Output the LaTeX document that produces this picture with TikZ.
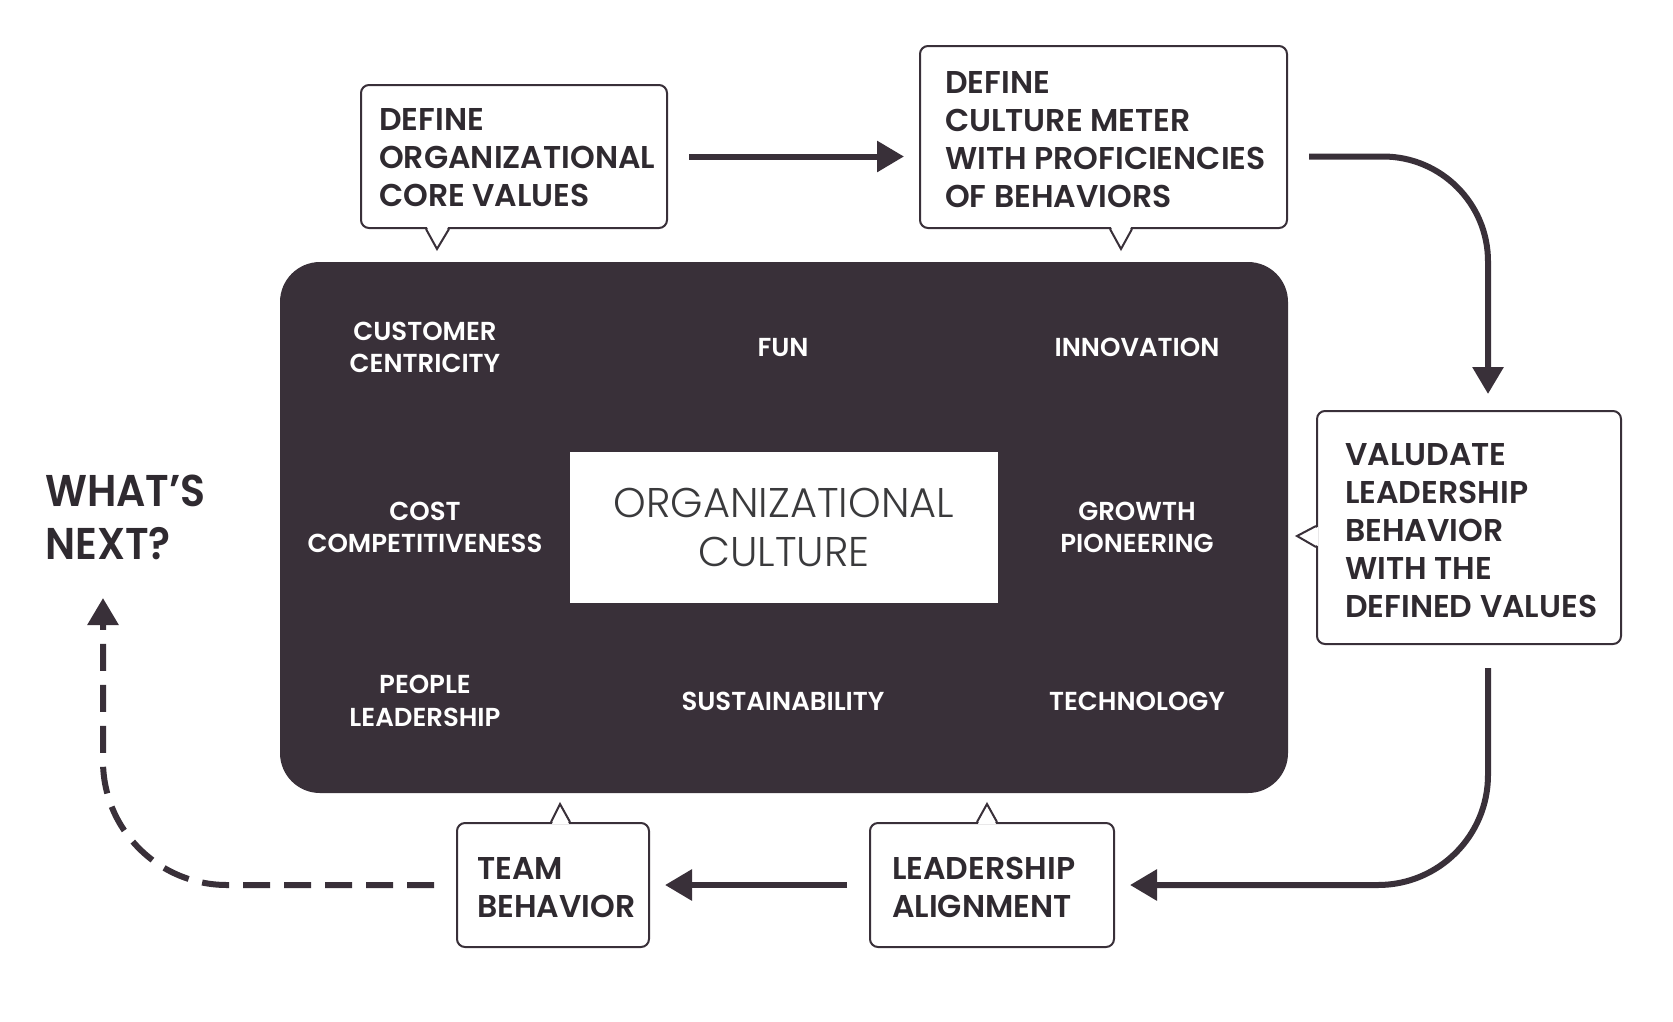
\documentclass[tikz,border=0pt]{standalone}
\usepackage{fontspec}
\setmainfont{Poppins SemiBold}
\newfontfamily\lightfont{Poppins Light}
\newfontfamily\narrowfont{Poppins SemiBold}[FakeStretch=0.92]
\usetikzlibrary{arrows.meta}
\definecolor{ink}{HTML}{393039}
\definecolor{txt}{HTML}{2F2A30}
\definecolor{orgtxt}{HTML}{3A3A3C}
\tikzset{
  bubble/.style={draw=ink, line width=2pt, rounded corners=8pt, fill=white, inner sep=0pt},
  ptrline/.style={draw=ink, line width=2pt, line join=miter},
  boxtext/.style={anchor=north west, inner sep=0pt, align=left, text=txt, font=\fontsize{31.5}{38}\selectfont},
  corelabel/.style={inner sep=0pt, align=center, text=white, font=\fontsize{26}{32.5}\selectfont},
  arr/.style={draw=ink, line width=6pt, -{Triangle[length=27pt,width=30pt]}},
  dasharr/.style={arr, dash pattern=on 27pt off 14pt}
}
\begin{document}
\begin{tikzpicture}[x=1pt,y=-1pt]
\fill[white] (0,0) rectangle (1673,1021);

% central dark panel
\node[fill=ink, rounded corners=40pt, minimum width=1008pt, minimum height=531pt, inner sep=0pt] (core) at (784,527.5) {};
\node[fill=white, minimum width=428pt, minimum height=151pt, inner sep=0pt, align=center, text=orgtxt,
      font=\lightfont\fontsize{41.5}{49}\selectfont] (org) at (784,527.5) {ORGANIZATIONAL\\CULTURE};

\node[corelabel] (l1) at (425,347.5) {CUSTOMER\\CENTRICITY};
\node[corelabel] (l2) at (783,347.5) {FUN};
\node[corelabel] (l3) at (1137,347.5) {INNOVATION};
\node[corelabel] (l4) at (425,527.5) {COST\\COMPETITIVENESS};
\node[corelabel] (l5) at (1137,527.5) {GROWTH\\PIONEERING};
\node[corelabel] (l6) at (425,701) {PEOPLE\\LEADERSHIP};
\node[corelabel] (l7) at (783,701) {SUSTAINABILITY};
\node[corelabel] (l8) at (1137,701) {TECHNOLOGY};

% bubbles
\node[bubble, minimum width=306pt, minimum height=143pt] (b1) at (514,156.5) {};
\node[bubble, minimum width=367pt, minimum height=182pt] (b2) at (1103.5,137) {};
\node[bubble, minimum width=304pt, minimum height=233pt] (b3) at (1469,527.5) {};
\node[bubble, minimum width=192pt, minimum height=124pt] (team) at (553,885) {};
\node[bubble, minimum width=244pt, minimum height=124pt] (lead) at (992,885) {};

% pointers
\fill[white] ([xshift=-87pt,yshift=2pt]b1.south) -- ([xshift=-77pt,yshift=-20pt]b1.south) -- ([xshift=-66pt,yshift=2pt]b1.south) -- cycle;
\draw[ptrline] ([xshift=-88pt]b1.south) -- ([xshift=-77pt,yshift=-20pt]b1.south) -- ([xshift=-65pt]b1.south);
\fill[white] ([xshift=7.5pt,yshift=2pt]b2.south) -- ([xshift=17.5pt,yshift=-20pt]b2.south) -- ([xshift=27.5pt,yshift=2pt]b2.south) -- cycle;
\draw[ptrline] ([xshift=6.5pt]b2.south) -- ([xshift=17.5pt,yshift=-20pt]b2.south) -- ([xshift=28.5pt]b2.south);
\fill[white] ([xshift=2pt,yshift=0.5pt]b3.west) -- ([xshift=-19pt,yshift=-8.5pt]b3.west) -- ([xshift=2pt,yshift=-18.5pt]b3.west) -- cycle;
\draw[ptrline] ([yshift=1.5pt]b3.west) -- ([xshift=-19pt,yshift=-8.5pt]b3.west) -- ([yshift=-19.5pt]b3.west);
\fill[white] ([xshift=-1pt,yshift=-2pt]team.north) -- ([xshift=7pt,yshift=18pt]team.north) -- ([xshift=16pt,yshift=-2pt]team.north) -- cycle;
\draw[ptrline] ([xshift=-2pt]team.north) -- ([xshift=7pt,yshift=18pt]team.north) -- ([xshift=17pt]team.north);
\fill[white] ([xshift=-14pt,yshift=-2pt]lead.north) -- ([xshift=-5pt,yshift=18pt]lead.north) -- ([xshift=4pt,yshift=-2pt]lead.north) -- cycle;
\draw[ptrline] ([xshift=-15pt]lead.north) -- ([xshift=-5pt,yshift=18pt]lead.north) -- ([xshift=5pt]lead.north);

% bubble texts
\node[boxtext] (t1) at (379,108) {DEFINE\\ORGANIZATIONAL\\CORE VALUES};
\node[boxtext] (t2) at (945,71) {DEFINE\\CULTURE METER\\WITH PROFICIENCIES\\OF BEHAVIORS};
\node[boxtext] (t3) at (1345,443) {VALUDATE\\LEADERSHIP\\BEHAVIOR\\WITH THE\\DEFINED VALUES};
\node[boxtext] (t4) at (477,857) {TEAM\\BEHAVIOR};
\node[boxtext] (t5) at (892,857) {LEADERSHIP\\ALIGNMENT};

\node[anchor=north west, inner sep=0pt, align=left, text=txt, font=\narrowfont\fontsize{44.5}{53}\selectfont] (next) at (45,475) {WHAT’S\\NEXT?};
\coordinate (nexttip) at (103,598);

% connectors
\draw[arr, shorten <=21pt, shorten >=15pt] (b1.east) -- (b1.east -| b2.west);
\draw[arr, rounded corners=105pt] ([xshift=21pt]b1.east -| b2.east) -| ([xshift=19pt,yshift=16pt]b3.north);
\draw[arr, rounded corners=110pt] ([xshift=19pt,yshift=-23pt]b3.south) |- ([xshift=15pt]lead.east);
\draw[arr, shorten <=22pt, shorten >=15pt] (lead.west) -- (team.east);
\draw[dasharr, rounded corners=124pt] ([xshift=-22pt]team.west) -| (nexttip);
\end{tikzpicture}
\end{document}
